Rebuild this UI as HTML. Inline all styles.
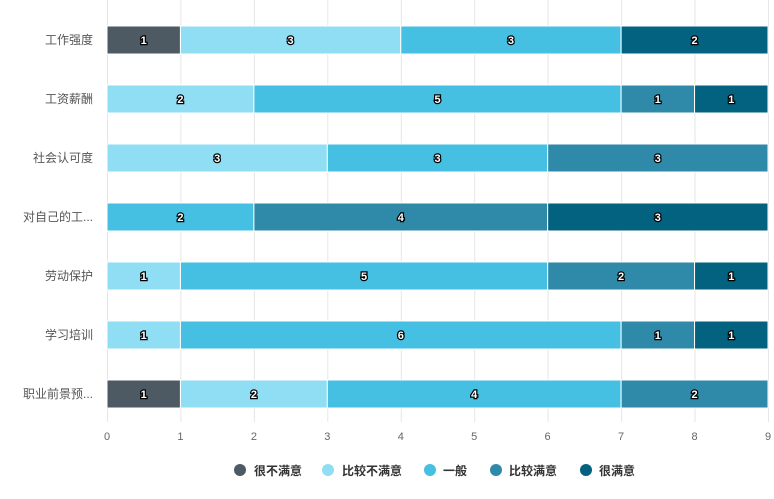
<!DOCTYPE html>
<html><head><meta charset="utf-8"><style>
html,body{margin:0;padding:0;background:#fff;}
svg{display:block;font-family:"Liberation Sans","Noto Sans CJK SC",sans-serif;}
.v{font-size:11px;font-weight:bold;fill:#fff;stroke:#000;stroke-width:2.5px;paint-order:stroke;text-anchor:middle;}
.y{font-size:12px;fill:#555;text-anchor:end;}
.x{font-size:11px;fill:#666;text-anchor:middle;}
.l{font-size:12px;fill:#333;font-weight:bold;}
.b rect{stroke:#fff;stroke-width:1;}
.c0{fill:#4d5a64}.c1{fill:#8fdef4}.c2{fill:#45bfe2}.c3{fill:#2e8aa8}.c4{fill:#03627f}
</style></head><body>
<svg width="774" height="499" viewBox="0 0 774 499">
<g stroke="#e6e6e6" stroke-width="1">
<line x1="107.5" y1="0" x2="107.5" y2="422"/><line x1="180.9" y1="0" x2="180.9" y2="422"/><line x1="254.4" y1="0" x2="254.4" y2="422"/><line x1="327.8" y1="0" x2="327.8" y2="422"/><line x1="401.3" y1="0" x2="401.3" y2="422"/><line x1="474.7" y1="0" x2="474.7" y2="422"/><line x1="548.1" y1="0" x2="548.1" y2="422"/><line x1="621.6" y1="0" x2="621.6" y2="422"/><line x1="695" y1="0" x2="695" y2="422"/><line x1="768.5" y1="0" x2="768.5" y2="422"/>
</g>
<g class="b">
<!-- row1 -->
<rect class="c0" x="107" y="26" width="73.44" height="28"/><text class="v" x="143.7" y="44">1</text>
<rect class="c1" x="180.44" y="26" width="220.33" height="28"/><text class="v" x="290.6" y="44">3</text>
<rect class="c2" x="400.78" y="26" width="220.33" height="28"/><text class="v" x="510.9" y="44">3</text>
<rect class="c4" x="621.11" y="26" width="146.89" height="28"/><text class="v" x="694.6" y="44">2</text>
<!-- row2 -->
<rect class="c1" x="107" y="85" width="146.89" height="28"/><text class="v" x="180.4" y="103">2</text>
<rect class="c2" x="253.89" y="85" width="367.22" height="28"/><text class="v" x="437.5" y="103">5</text>
<rect class="c3" x="621.11" y="85" width="73.44" height="28"/><text class="v" x="657.8" y="103">1</text>
<rect class="c4" x="694.56" y="85" width="73.44" height="28"/><text class="v" x="731.3" y="103">1</text>
<!-- row3 -->
<rect class="c1" x="107" y="144" width="220.33" height="28"/><text class="v" x="217.2" y="162">3</text>
<rect class="c2" x="327.33" y="144" width="220.33" height="28"/><text class="v" x="437.5" y="162">3</text>
<rect class="c3" x="547.67" y="144" width="220.33" height="28"/><text class="v" x="657.8" y="162">3</text>
<!-- row4 -->
<rect class="c2" x="107" y="203" width="146.89" height="28"/><text class="v" x="180.4" y="221">2</text>
<rect class="c3" x="253.89" y="203" width="293.78" height="28"/><text class="v" x="400.8" y="221">4</text>
<rect class="c4" x="547.67" y="203" width="220.33" height="28"/><text class="v" x="657.8" y="221">3</text>
<!-- row5 -->
<rect class="c1" x="107" y="262" width="73.44" height="28"/><text class="v" x="143.7" y="280">1</text>
<rect class="c2" x="180.44" y="262" width="367.22" height="28"/><text class="v" x="364.1" y="280">5</text>
<rect class="c3" x="547.67" y="262" width="146.89" height="28"/><text class="v" x="621.1" y="280">2</text>
<rect class="c4" x="694.56" y="262" width="73.44" height="28"/><text class="v" x="731.3" y="280">1</text>
<!-- row6 -->
<rect class="c1" x="107" y="321" width="73.44" height="28"/><text class="v" x="143.7" y="339">1</text>
<rect class="c2" x="180.44" y="321" width="440.67" height="28"/><text class="v" x="400.8" y="339">6</text>
<rect class="c3" x="621.11" y="321" width="73.44" height="28"/><text class="v" x="657.8" y="339">1</text>
<rect class="c4" x="694.56" y="321" width="73.44" height="28"/><text class="v" x="731.3" y="339">1</text>
<!-- row7 -->
<rect class="c0" x="107" y="380" width="73.44" height="28"/><text class="v" x="143.7" y="398">1</text>
<rect class="c1" x="180.44" y="380" width="146.89" height="28"/><text class="v" x="253.9" y="398">2</text>
<rect class="c2" x="327.33" y="380" width="293.78" height="28"/><text class="v" x="474.2" y="398">4</text>
<rect class="c3" x="621.11" y="380" width="146.89" height="28"/><text class="v" x="694.6" y="398">2</text>
</g>
<g class="x">
<text x="107" y="440">0</text><text x="180.4" y="440">1</text><text x="253.9" y="440">2</text><text x="327.3" y="440">3</text><text x="400.8" y="440">4</text><text x="474.2" y="440">5</text><text x="547.6" y="440">6</text><text x="621.1" y="440">7</text><text x="694.5" y="440">8</text><text x="768" y="440">9</text>
</g>
<g class="y">
<text x="93" y="44">工作强度</text><text x="93" y="103">工资薪酬</text><text x="93" y="162">社会认可度</text><text x="93" y="221">对自己的工...</text><text x="93" y="280">劳动保护</text><text x="93" y="339">学习培训</text><text x="93" y="398">职业前景预...</text>
</g>
<g>
<circle cx="240" cy="470" r="6" fill="#4d5a64"/><text class="l" x="254" y="475">很不满意</text>
<circle cx="328" cy="470" r="6" fill="#8fdef4"/><text class="l" x="342" y="475">比较不满意</text>
<circle cx="430" cy="470" r="6" fill="#45bfe2"/><text class="l" x="443" y="475">一般</text>
<circle cx="496" cy="470" r="6" fill="#2e8aa8"/><text class="l" x="509" y="475">比较满意</text>
<circle cx="586" cy="470" r="6" fill="#03627f"/><text class="l" x="599" y="475">很满意</text>
</g>
</svg>
</body></html>
